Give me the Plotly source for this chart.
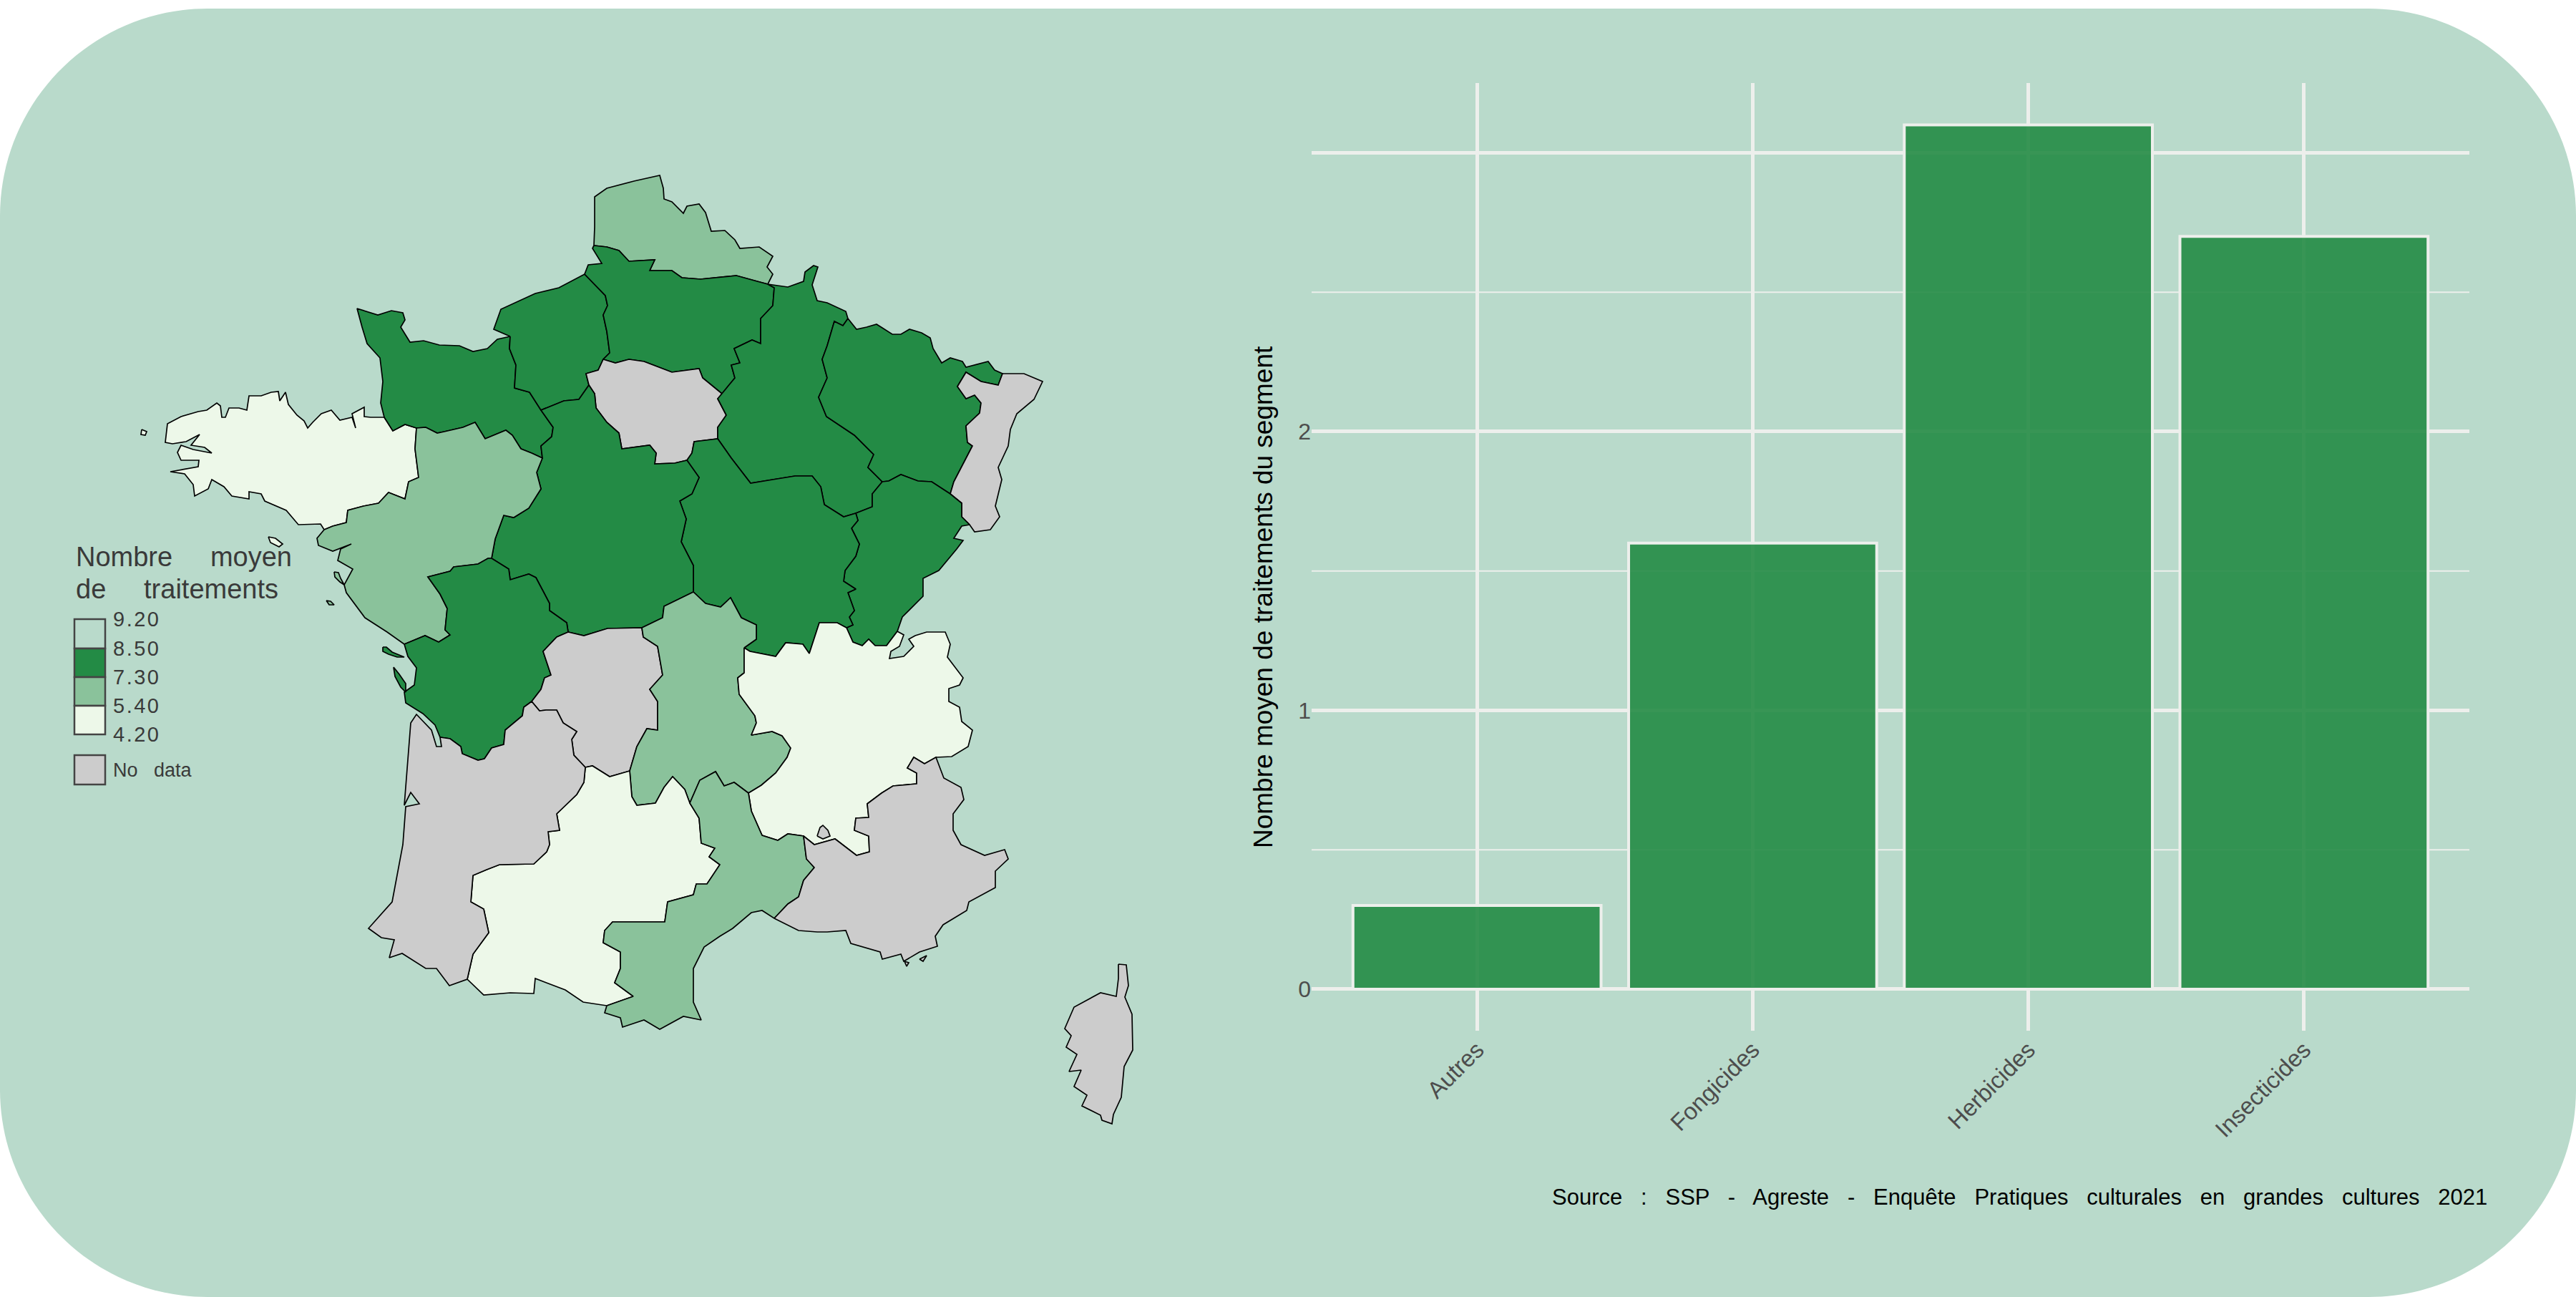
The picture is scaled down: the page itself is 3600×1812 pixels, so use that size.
import plotly.graph_objects as go

W, H = 3600, 1812

# --- bar chart values
categories = ["Autres", "Fongicides", "Herbicides", "Insecticides"]
nb_traitements = [0.30, 1.60, 3.10, 2.70]
y_ticks = [0, 1, 2]
y_grid_minor = [0.5, 1.5, 2.5]

# --- legend
legend_labels = ["9.20", "8.50", "7.30", "5.40", "4.20"]
legend_colors = ["#b9dacb", "#238b45", "#8ac29b", "#edf8e9"]
legend_title = ["Nombre     moyen", "de     traitements"]

DARK, MID, LIGHT, NODATA = "#238b45", "#8ac29b", "#edf8e9", "#cccccc"

# --- region borders, map units, y going down
coast_bn = [(537,583),(532,563),(535,533),(531,500),(513,480),(506,457),(499,431),(528,440),(547,434),(563,437),(566,447),(560,457),(573,478),(592,476),(614,482),(642,483),(661,491),(681,487),(695,474),(713,470)]
bn_hn = [(713,470),(712,487),(721,510),(719,542),(740,548),(756,573)]
bn_centre = [(756,573),(773,597),(771,610),(756,623),(758,640)]
bn_pdl = [(758,640),(743,633),(728,627),(716,608),(707,601),(690,608),(678,613),(664,590),(647,597),(621,603),(611,605),(595,597),(582,598)]
bn_bret = [(582,598),(566,593),(549,602),(537,583)]
coast_hn = [(713,470),(690,460),(700,432),(748,410),(781,402),(817,383)]
hn_pic = [(817,383),(846,413),(849,427),(843,440),(848,463),(852,493),(843,502)]
hn_idf = [(843,502),(836,517),(819,522),(823,538)]
hn_centre = [(823,538),(809,558),(788,560),(756,573)]
coast_pic = [(830,343),(828,347),(841,368),(822,370),(817,383)]
nord_pic = [(830,343),(848,345),(865,350),(879,365),(915,363),(908,378),(939,378),(953,388),(979,390),(1029,385),(1058,393),(1073,397)]
nord_outer = [(1073,397),(1080,383),(1072,373),(1080,358),(1061,345),(1034,347),(1027,335),(1013,322),(994,323),(986,297),(977,285),(960,288),(955,298),(939,282),(928,278),(927,263),(922,245),(886,253),(848,263),(831,275),(831,300),(831,317),(830,343)]
pic_idf = [(843,502),(860,507),(879,502),(900,505),(939,520),(977,515),(982,528),(1009,550)]
pic_champ = [(1009,550),(1027,528),(1022,510),(1034,507),(1026,487),(1051,475),(1063,480),(1063,445),(1080,427),(1082,402),(1073,397)]
idf_champ = [(1009,550),(1003,557),(1015,580),(1003,597),(1003,613)]
idf_bourg = [(1003,613),(970,617),(967,633),(960,643)]
idf_centre = [(960,643),(943,647),(915,648),(917,633),(908,622),(869,627),(865,605),(848,590),(833,570),(831,550),(823,538)]
champ_north = [(1073,397),(1101,401),(1123,393),(1125,380),(1137,371),(1143,373),(1135,398),(1142,420),(1156,423),(1182,435),(1185,445)]
champ_lor = [(1185,445),(1178,455),(1166,449),(1156,483),(1149,502),(1156,528),(1144,555),(1155,582),(1194,608),(1221,635),(1213,653),(1233,673)]
champ_fc = [(1233,673),(1219,690),(1219,708),(1196,717)]
champ_bourg = [(1003,613),(1022,640),(1049,675),(1080,670),(1111,665),(1135,665),(1147,680),(1152,705),(1179,722),(1196,717)]
lor_north = [(1185,445),(1197,460),(1211,457),(1225,453),(1233,458),(1247,467),(1259,467),(1271,460),(1288,465),(1300,472),(1304,487),(1316,507),(1328,500),(1345,505),(1350,513),(1381,505),(1390,517),(1401,522)]
lor_als = [(1401,522),(1395,538),(1371,533),(1350,520),(1338,540),(1350,557),(1362,552),(1371,563),(1369,577),(1350,595),(1352,618),(1359,623),(1333,673),(1328,690)]
lor_fc = [(1328,690),(1302,673),(1283,672),(1259,663),(1242,672),(1233,673)]
als_outer = [(1401,522),(1431,522),(1457,533),(1445,558),(1421,578),(1412,600),(1409,623),(1395,653),(1400,670),(1391,707),(1397,722),(1384,740),(1362,743),(1355,733)]
als_fc = [(1355,733),(1344,722),(1344,703),(1328,690)]
fc_east = [(1355,733),(1344,735),(1333,752),(1346,755),(1337,767),(1312,797),(1290,808),(1290,833),(1261,862),(1254,882)]
fc_ra = [(1254,882),(1239,902),(1223,902),(1214,893),(1205,902),(1192,897),(1183,877)]
bourg_fc = [(1196,717),(1199,727),(1190,738),(1201,760),(1196,777),(1181,797),(1179,812),(1196,823),(1185,828),(1194,853),(1187,862),(1192,873),(1183,877)]
centre_bourg = [(960,643),(977,667),(967,690),(950,700),(959,725),(952,757),(969,790),(969,827)]
bourg_auv = [(969,827),(986,843),(1007,848),(1021,835),(1036,863),(1057,873),(1057,893),(1040,905)]
bourg_ra = [(1040,905),(1048,910),(1084,917),(1098,898),(1122,900),(1131,913),(1145,870),(1170,870),(1183,877)]
centre_auv = [(969,827),(928,847),(926,863),(897,877)]
centre_lim = [(897,877),(849,878),(816,888),(794,883)]
centre_poit = [(794,883),(792,870),(768,853),(768,843),(749,807),(739,802),(713,810),(711,795),(687,780)]
centre_pdl = [(687,780),(692,753),(704,720),(718,723),(739,710),(756,683),(750,660),(758,640)]
bret_coast = [(537,583),(518,583),(509,582),(509,569),(492,578),(497,598),(492,583),(475,587),(463,573),(449,578),(437,590),(430,598),(425,588),(415,580),(403,565),(399,548),(391,560),(389,547),(379,548),(365,553),(348,553),(345,573),(334,570),(320,570),(315,583),(310,583),(308,567),(303,563),(289,573),(277,575),(253,582),(234,592),(231,618),(241,620),(260,617),(279,607),(267,622),(286,625),(296,633),(270,628),(253,622),(248,632),(253,643),(278,643),(277,652),(238,659),(258,662),(270,677),(272,693),(291,683),(296,670),(313,680),(324,693),(348,697),(348,687),(365,690),(370,700),(400,713),(417,733),(448,732),(453,740)]
bret_pdl = [(582,598),(580,627),(585,667),(571,673),(566,697),(543,688),(529,703),(508,707),(486,713),(484,730),(465,735),(453,740)]
pdl_coast = [(453,740),(443,752),(445,762),(465,770),(491,760),(476,767),(472,783),(493,795),(481,817),(484,828),(510,863),(541,883),(565,900)]
pdl_poit = [(565,900),(577,895),(594,888),(613,897),(629,887),(622,880),(625,850),(615,830),(598,806),(629,798),(634,792),(668,788),(682,780),(687,780)]
poit_coast = [(565,900),(570,917),(582,933),(579,957),(565,967),(567,982),(591,997),(608,1013),(615,1030)]
poit_aq = [(615,1030),(629,1032),(644,1043),(646,1053),(668,1062),(677,1060),(687,1045),(704,1040),(706,1020),(730,1000),(732,988),(743,980)]
poit_lim = [(743,980),(756,963),(761,947),(770,943),(759,910),(778,890),(794,883)]
lim_auv = [(897,877),(899,890),(919,903),(926,943),(908,963),(919,980),(919,1020),(904,1018),(890,1043),(880,1077)]
lim_mp = [(880,1077),(852,1085),(828,1070),(818,1072)]
lim_aq = [(818,1072),(802,1055),(799,1033),(806,1022),(787,1010),(778,992),(763,992),(754,993),(743,980)]
auv_ra = [(1040,905),(1040,940),(1031,947),(1033,970),(1055,1000),(1057,1010),(1050,1027),(1079,1022),(1093,1028),(1105,1045),(1100,1058),(1084,1080),(1064,1097),(1046,1108)]
auv_lr = [(1046,1108),(1026,1093),(1012,1098),(1000,1078),(978,1090),(964,1122)]
auv_mp = [(964,1122),(957,1103),(940,1085),(928,1100),(916,1122),(890,1125),(883,1113),(880,1077)]
ra_swiss = [(1254,882),(1263,887),(1257,903),(1245,910),(1243,920),(1263,917),(1277,903),(1270,893),(1279,888),(1295,883),(1321,883),(1328,900),(1324,918),(1333,930),(1346,947),(1341,957),(1326,962),(1326,980),(1341,988),(1344,1008),(1359,1020),(1353,1043),(1330,1057),(1308,1058)]
ra_paca = [(1308,1058),(1292,1067),(1277,1058),(1268,1073),(1281,1080),(1281,1095),(1248,1098),(1232,1108),(1212,1123),(1214,1142),(1196,1143),(1194,1160),(1214,1168),(1215,1190),(1197,1195),(1167,1172),(1138,1180),(1123,1168)]
ra_lr = [(1123,1168),(1101,1165),(1087,1174),(1065,1167),(1050,1133),(1046,1108)]
mp_lr = [(848,1405),(885,1392),(859,1373),(867,1353),(867,1330),(843,1317),(845,1300),(856,1288),(892,1288),(929,1288),(933,1260),(969,1250),(973,1235),(988,1235),(1006,1208),(991,1197),(999,1185),(980,1178),(977,1143),(964,1122)]
mp_south = [(653,1368),(676,1390),(713,1387),(746,1388),(748,1367),(790,1383),(815,1400),(848,1405)]
aq_mp = [(818,1072),(816,1093),(806,1110),(778,1137),(782,1160),(766,1162),(768,1180),(764,1190),(746,1207),(698,1208),(680,1215),(661,1223),(658,1260),(676,1270),(683,1303),(661,1333),(653,1368)]
lr_coast = [(848,1405),(845,1415),(867,1422),(870,1435),(900,1425),(922,1438),(955,1420),(980,1425),(969,1400),(969,1353),(984,1323),(1006,1308),(1024,1297),(1050,1275),(1065,1272),(1082,1283)]
lr_paca = [(1082,1283),(1101,1263),(1116,1253),(1123,1230),(1138,1212),(1127,1200),(1123,1168)]
paca_coast = [(1082,1283),(1116,1300),(1142,1302),(1156,1302),(1182,1300),(1189,1318),(1230,1330),(1233,1340),(1259,1333),(1263,1343),(1285,1330),(1310,1322),(1307,1308),(1318,1292),(1351,1272),(1354,1260),(1391,1240),(1391,1217),(1409,1200),(1404,1187),(1376,1195),(1343,1180),(1332,1160),(1332,1137),(1347,1117),(1343,1100),(1319,1087),(1308,1058)]
aq_coast = [(615,1030),(617,1043),(610,1043),(603,1020),(582,998),(574,1010),(565,1125),(574,1107),(586,1123),(567,1127),(563,1180),(548,1260),(515,1297),(533,1310),(551,1313),(544,1338),(562,1332),(595,1353),(610,1353),(628,1377),(653,1368)]
corse = [(1563,1347),(1574,1348),(1577,1377),(1572,1393),(1582,1417),(1583,1467),(1571,1490),(1567,1533),(1556,1557),(1554,1570),(1540,1565),(1538,1558),(1512,1545),(1519,1530),(1501,1518),(1511,1495),(1494,1497),(1505,1473),(1490,1463),(1497,1447),(1488,1437),(1501,1407),(1538,1387),(1560,1392),(1563,1367),(1563,1347)]

# small islands
ouessant = [(198,600),(205,603),(203,608),(197,607),(198,600)]
belle_ile = [(375,750),(385,752),(395,760),(390,764),(378,758),(375,750)]
noirmoutier = [(467,799),(473,800),(476,808),(481,817),(475,813),(468,806),(467,799)]
yeu = [(456,839),(462,840),(467,845),(460,845),(456,839)]
re_ile = [(535,904),(540,904),(548,911),(565,918),(555,918),(543,914),(535,910),(535,904)]
oleron = [(550,932),(558,942),(567,955),(567,967),(560,960),(552,945),(550,932)]
valreas = [(1142,1168),(1146,1156),(1150,1153),(1157,1160),(1160,1168),(1150,1172),(1142,1168)]
hyeres_1 = [(1264,1343),(1270,1345),(1267,1350),(1264,1343)]
hyeres_2 = [(1285,1340),(1295,1335),(1290,1343),(1285,1340)]


def rev(arc):
    return arc[::-1]


regions = [
    (bret_coast + rev(bret_pdl) + bn_bret, LIGHT),
    (coast_bn + bn_hn + bn_centre + bn_pdl + bn_bret, DARK),
    (coast_hn + hn_pic + hn_idf + hn_centre + rev(bn_hn), DARK),
    (nord_pic + nord_outer, MID),
    (coast_pic + hn_pic + pic_idf + pic_champ + rev(nord_pic), DARK),
    (pic_idf + idf_champ + idf_bourg + idf_centre + rev(hn_idf), NODATA),
    (champ_north + champ_lor + champ_fc + rev(champ_bourg) + rev(idf_champ) + pic_champ, DARK),
    (lor_north + lor_als + lor_fc + rev(champ_lor), DARK),
    (als_outer + als_fc + rev(lor_als), NODATA),
    (rev(als_fc) + fc_east + fc_ra + rev(bourg_fc) + rev(champ_fc) + rev(lor_fc), DARK),
    (centre_bourg + bourg_auv + bourg_ra + rev(bourg_fc) + rev(champ_bourg) + idf_bourg, DARK),
    (centre_auv + centre_lim + centre_poit + centre_pdl + rev(bn_centre) + rev(hn_centre) + rev(idf_centre) + centre_bourg, DARK),
    (pdl_coast + pdl_poit + centre_pdl + bn_pdl + bret_pdl, MID),
    (poit_coast + poit_aq + poit_lim + centre_poit + rev(pdl_poit), DARK),
    (rev(centre_lim) + lim_auv + lim_mp + lim_aq + poit_lim, NODATA),
    (rev(bourg_auv) + centre_auv + lim_auv + rev(auv_mp) + rev(auv_lr) + rev(auv_ra), MID),
    (ra_swiss + ra_paca + ra_lr + rev(auv_ra) + bourg_ra + rev(fc_ra), LIGHT),
    (aq_mp + mp_south + mp_lr + auv_mp + lim_mp, LIGHT),
    (lr_coast + lr_paca + ra_lr + auv_lr + rev(mp_lr), MID),
    (paca_coast + ra_paca + rev(lr_paca), NODATA),
    (aq_coast + rev(aq_mp) + lim_aq + rev(poit_aq), NODATA),
    (corse, NODATA),
    (ouessant, LIGHT), (belle_ile, LIGHT), (noirmoutier, MID), (yeu, MID),
    (re_ile, DARK), (oleron, DARK), (valreas, NODATA), (hyeres_1, NODATA), (hyeres_2, NODATA),
]

fig = go.Figure()

for outline, color in regions:
    fig.add_trace(go.Scatter(
        x=[p[0] for p in outline], y=[p[1] for p in outline],
        mode="lines", fill="toself", fillcolor=color,
        line=dict(color="black", width=1.7), hoverinfo="skip",
        showlegend=False, xaxis="x", yaxis="y",
    ))

fig.add_trace(go.Bar(
    x=categories, y=nb_traitements, width=0.9,
    marker=dict(color="rgba(35,139,69,0.9)", line=dict(color="#edefec", width=4)),
    showlegend=False, xaxis="x2", yaxis="y2",
))


def fx(px):
    return px / W


def fy(py):
    return 1 - py / H


# pale rounded panel behind everything
top, bottom, r = 12, 1812, 290
k = 0.4477 * r
panel = (
    f"M {fx(r)} {fy(top)} L {fx(W - r)} {fy(top)} "
    f"C {fx(W - k)} {fy(top)} {fx(W)} {fy(top + k)} {fx(W)} {fy(top + r)} "
    f"L {fx(W)} {fy(bottom - r)} "
    f"C {fx(W)} {fy(bottom - k)} {fx(W - k)} {fy(bottom)} {fx(W - r)} {fy(bottom)} "
    f"L {fx(r)} {fy(bottom)} "
    f"C {fx(k)} {fy(bottom)} {fx(0)} {fy(bottom - k)} {fx(0)} {fy(bottom - r)} "
    f"L {fx(0)} {fy(top + r)} "
    f"C {fx(0)} {fy(top + k)} {fx(k)} {fy(top)} {fx(r)} {fy(top)} Z"
)
shapes = [dict(type="path", path=panel, xref="paper", yref="paper", layer="below",
               fillcolor="#b9dacb", line_width=0)]

# legend boxes
box_y = [865, 906, 946, 986, 1026]
for i, c in enumerate(legend_colors):
    shapes.append(dict(type="rect", xref="paper", yref="paper",
                       x0=fx(104), x1=fx(147), y0=fy(box_y[i]), y1=fy(box_y[i + 1]),
                       fillcolor=c, line=dict(color="#444444", width=2.5)))
shapes.append(dict(type="rect", xref="paper", yref="paper",
                   x0=fx(104), x1=fx(147), y0=fy(1055), y1=fy(1096),
                   fillcolor=NODATA, line=dict(color="#444444", width=2.5)))

# minor horizontal grid lines, thinner than the major ones
for v in y_grid_minor:
    shapes.append(dict(type="line", xref="x2 domain", yref="y2", x0=0, x1=1, y0=v, y1=v,
                       layer="below", line=dict(color="#edefec", width=2)))

annotations = []


def note(text, x, y, size, color, anchor="left", angle=0):
    annotations.append(dict(text=text, xref="paper", yref="paper", x=fx(x), y=fy(y),
                            xanchor=anchor, yanchor="middle", showarrow=False, textangle=angle,
                            font=dict(family="Liberation Sans", size=size, color=color)))


note(legend_title[0], 104, 778, 38, "#3a3a3a")
note(legend_title[1], 104, 823, 38, "#3a3a3a")
for lab, y in zip(legend_labels, box_y):
    note(f'<span style="letter-spacing:2.5px">{lab}</span>', 156, y, 29, "#3a3a3a")
note("No   data", 156, 1076, 27, "#3a3a3a")
note("Source   :   SSP   -   Agreste   -   Enquête   Pratiques   culturales   en   grandes   cultures   2021",
     3478, 1672, 31, "black", anchor="right")
note("Nombre moyen de traitements du segment", 1765, 834, 37, "black", anchor="center", angle=-90)

fig.update_layout(
    width=W, height=H, margin=dict(l=0, r=0, t=0, b=0),
    paper_bgcolor="white", plot_bgcolor="rgba(0,0,0,0)",
    font=dict(family="Liberation Sans"),
    shapes=shapes, annotations=annotations, bargap=0.1,
    xaxis=dict(domain=[0, 1650 / W], range=[0, 1650], visible=False),
    yaxis=dict(domain=[0, 1], range=[H, 0], visible=False),
    xaxis2=dict(
        domain=[1833 / W, 3451 / W], range=[-0.6, 3.6], anchor="y2",
        tickangle=-45, tickfont=dict(size=33, color="#4d4d4d"),
        showgrid=True, gridcolor="#edefec", gridwidth=4.5, zeroline=False, showline=False,
        ticks="", categoryorder="array", categoryarray=categories,
    ),
    yaxis2=dict(
        domain=[1 - 1440 / H, 1 - 116 / H], range=[-0.149, 3.25], anchor="x2",
        tickmode="array", tickvals=[0, 1, 2, 3], ticktext=[str(v) for v in y_ticks] + [""],
        tickfont=dict(size=32, color="#4d4d4d"),
        showgrid=True, gridcolor="#edefec", gridwidth=4.5, zeroline=False, showline=False,
        ticks="",
    ),
)

fig.write_html("out.html", config={"displayModeBar": False},
               post_script="document.body.style.margin='0';")
